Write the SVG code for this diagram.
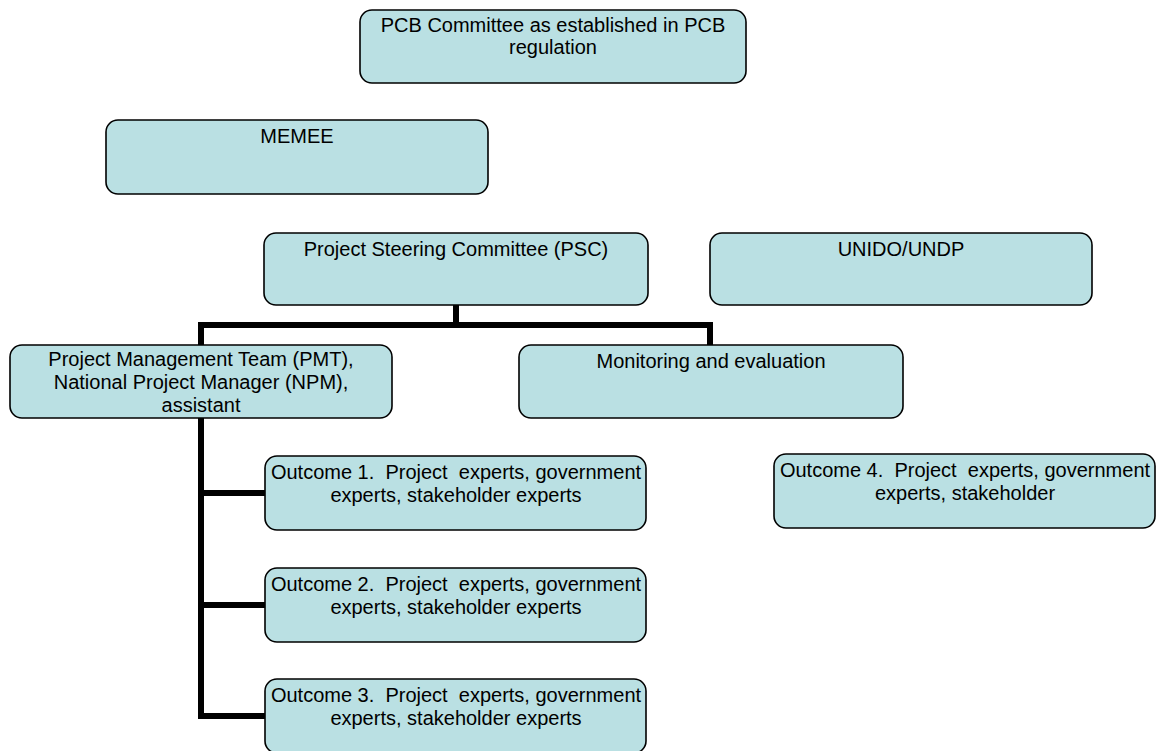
<svg xmlns="http://www.w3.org/2000/svg" width="1158" height="751" viewBox="0 0 1158 751">
<style>
.box{fill:#bae0e3;stroke:#000;stroke-width:1.6}
.t{font-family:"Liberation Sans",Arial,sans-serif;font-size:20px;fill:#000;text-anchor:middle;white-space:pre}
.c{fill:none;stroke:#000;stroke-width:6;stroke-linejoin:miter;stroke-linecap:butt}
</style>
<rect width="1158" height="751" fill="#fff"/>
<g id="connectors">
<path class="c" d="M456 305V325M201 345V325H710V345"/>
<path class="c" d="M201 418V716M201 493H265M201 605H265M198 716H265"/>
</g>
<g id="pcb"><rect class="box" x="360" y="10" width="386" height="73" rx="12"/><text class="t" x="553" y="32">PCB Committee as established in PCB</text><text class="t" x="553" y="54">regulation</text></g>
<g id="memee"><rect class="box" x="106" y="120" width="382" height="74" rx="12"/><text class="t" x="297" y="143">MEMEE</text></g>
<g id="psc"><rect class="box" x="264" y="233" width="384" height="72" rx="12"/><text class="t" x="456" y="256">Project Steering Committee (PSC)</text></g>
<g id="unido"><rect class="box" x="710" y="233" width="382" height="72" rx="12"/><text class="t" x="901" y="256">UNIDO/UNDP</text></g>
<g id="pmt"><rect class="box" x="10" y="345" width="382" height="73" rx="12"/><text class="t" x="201" y="366">Project Management Team (PMT),</text><text class="t" x="201" y="389">National Project Manager (NPM),</text><text class="t" x="201" y="412">assistant</text></g>
<g id="me"><rect class="box" x="519" y="345" width="384" height="73" rx="12"/><text class="t" x="711" y="368">Monitoring and evaluation</text></g>
<g id="o1"><rect class="box" x="265" y="456" width="381" height="74" rx="12"/><text class="t" x="456" y="479" xml:space="preserve">Outcome 1.  Project  experts, government</text><text class="t" x="456" y="502">experts, stakeholder experts</text></g>
<g id="o2"><rect class="box" x="265" y="568" width="381" height="74" rx="12"/><text class="t" x="456" y="591" xml:space="preserve">Outcome 2.  Project  experts, government</text><text class="t" x="456" y="614">experts, stakeholder experts</text></g>
<g id="o3"><rect class="box" x="265" y="679" width="381" height="74" rx="12"/><text class="t" x="456" y="702" xml:space="preserve">Outcome 3.  Project  experts, government</text><text class="t" x="456" y="725">experts, stakeholder experts</text></g>
<g id="o4"><rect class="box" x="774" y="454" width="381" height="74" rx="12"/><text class="t" x="965" y="477" xml:space="preserve">Outcome 4.  Project  experts, government</text><text class="t" x="965" y="500">experts, stakeholder</text></g>
</svg>
